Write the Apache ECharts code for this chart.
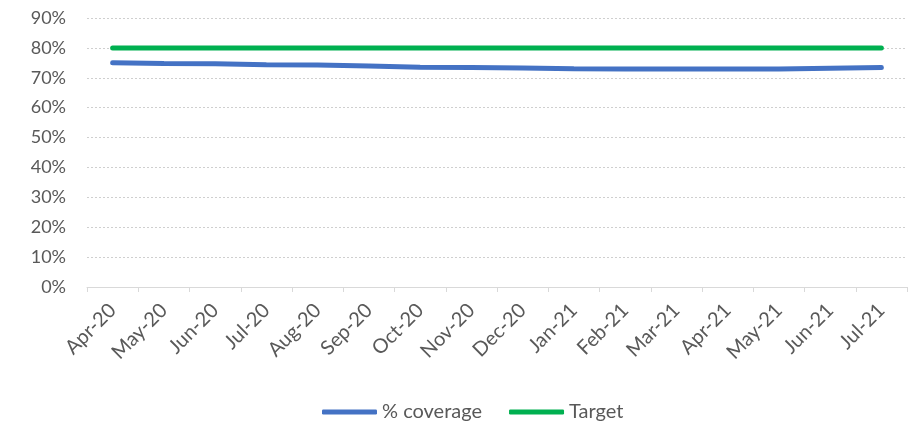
<!DOCTYPE html>
<html><head><meta charset="utf-8">
<script src="https://cdn.jsdelivr.net/npm/echarts@6/dist/echarts.min.js"></script>
<style>html,body{margin:0;padding:0;background:#fff}#c{width:917px;height:422px}</style>
</head><body><div id="c"></div>
<script>
const categories = ['Apr-20','May-20','Jun-20','Jul-20','Aug-20','Sep-20','Oct-20','Nov-20','Dec-20','Jan-21','Feb-21','Mar-21','Apr-21','May-21','Jun-21','Jul-21'];
const coverage = [75.0,74.8,74.7,74.4,74.3,73.9,73.5,73.4,73.3,73.0,72.9,72.9,72.9,72.9,73.2,73.4];
const target = [80,80,80,80,80,80,80,80,80,80,80,80,80,80,80,80];
const chart = echarts.init(document.getElementById('c'));
const font = 'Lato, "Open Sans", sans-serif';
chart.setOption({
  animation: false,
  grid: {left: 87, right: 10, top: 18, bottom: 135},
  legend: {
    top: 397, left: 317, itemWidth: 55, itemHeight: 5, itemGap: 27, icon: 'roundRect',
    textStyle: {fontFamily: font, fontSize: 20, color: '#595959'},
    data: ['% coverage', 'Target']
  },
  xAxis: {
    type: 'category', data: categories, boundaryGap: true,
    axisLine: {lineStyle: {color: '#d9d9d9', width: 1}},
    axisTick: {show: true, length: 5, lineStyle: {color: '#d9d9d9'}},
    axisLabel: {rotate: 45, margin: 20, fontFamily: font, fontSize: 20, color: '#595959', interval: 0}
  },
  yAxis: {
    type: 'value', min: 0, max: 90, interval: 10,
    axisLine: {show: false}, axisTick: {show: false},
    axisLabel: {formatter: '{value}%', margin: 21, fontFamily: font, fontSize: 18, color: '#595959'},
    splitLine: {lineStyle: {type: [2, 2], color: '#cfcfcf', width: 1}}
  },
  series: [
    {name: '% coverage', type: 'line', data: coverage, showSymbol: false, symbol: 'none',
     lineStyle: {color: '#4472C4', width: 5, cap: 'round'}, itemStyle: {color: '#4472C4'}},
    {name: 'Target', type: 'line', data: target, showSymbol: false, symbol: 'none',
     lineStyle: {color: '#00B050', width: 5, cap: 'round'}, itemStyle: {color: '#00B050'}}
  ]
});
</script></body></html>
